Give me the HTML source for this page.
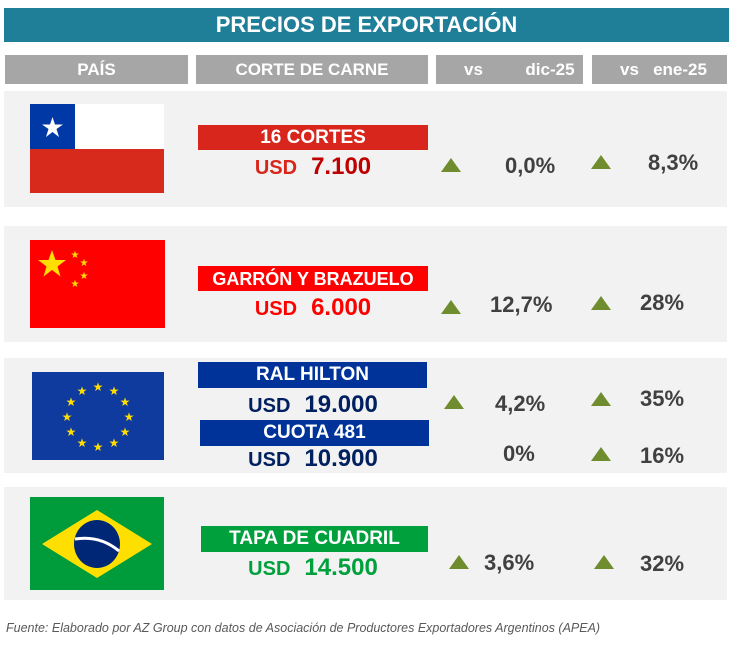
<!DOCTYPE html>
<html><head><meta charset="utf-8"><style>
body{margin:0;width:738px;height:651px;background:#fff;position:relative;overflow:hidden;font-family:"Liberation Sans",sans-serif;font-weight:bold}
div{position:absolute;box-sizing:border-box}
.c{text-align:center;white-space:nowrap}
.hd{background:#a6a6a6;color:#fff;top:55px;height:29px;font-size:17px;line-height:29px}
.pn{background:#f2f2f2;left:4px;width:723px}
.lb{color:#fff;font-size:19px;text-align:center;line-height:26px;white-space:nowrap}
.pc{color:#404040;font-size:22px;line-height:26px;white-space:nowrap}
.tr{width:0;height:0;border-left:10px solid transparent;border-right:10px solid transparent;border-bottom:14px solid #6f8c2e}
.usd{font-size:20px;line-height:24px;white-space:nowrap}
.usd span{font-size:24px;margin-left:14px}
</style></head><body>
<div class="c" style="left:4px;top:8px;width:725px;height:34px;background:#1f7f98;color:#fff;font-size:22px;line-height:34px">PRECIOS DE EXPORTACIÓN</div>
<div class="hd c" style="left:5px;width:183px">PAÍS</div>
<div class="hd c" style="left:196px;width:232px">CORTE DE CARNE</div>
<div class="hd" style="left:436px;width:147px;padding-left:28px">vs&nbsp;&nbsp;&nbsp;&nbsp;&nbsp;&nbsp;&nbsp;&nbsp;&nbsp;dic-25</div>
<div class="hd" style="left:592px;width:135px;padding-left:28px">vs&nbsp;&nbsp;&nbsp;ene-25</div>

<!-- Chile -->
<div class="pn" style="top:91px;height:116px"></div>
<div style="left:30px;top:104px;width:134px;height:89px;background:#d72a1d"></div>
<div style="left:30px;top:104px;width:134px;height:45px;background:#fff"></div>
<div style="left:30px;top:104px;width:45px;height:45px;background:#0039a6"></div>
<svg style="position:absolute;left:30px;top:104px" width="45" height="45"><polygon fill="#fff" points="22.5,13 25,20.5 33,20.5 26.5,25 29,33 22.5,28 16,33 18.5,25 12,20.5 20,20.5"/></svg>
<div class="lb" style="left:198px;top:125px;width:230px;height:25px;background:#d9261c">16 CORTES</div>
<div class="usd c" style="left:198px;top:155px;width:230px;color:#d9261c">USD<span style="color:#c00000">7.100</span></div>
<div class="tr" style="left:441px;top:158px"></div>
<div class="pc" style="left:505px;top:153px">0,0%</div>
<div class="tr" style="left:591px;top:155px"></div>
<div class="pc" style="left:648px;top:150px">8,3%</div>

<!-- China -->
<div class="pn" style="top:226px;height:116px"></div>
<div style="left:30px;top:240px;width:135px;height:88px;background:#ff0000"></div>
<svg style="position:absolute;left:30px;top:240px" width="135" height="88">
<g fill="#ffde00" font-size="10" text-anchor="middle" font-family="DejaVu Sans">
<polygon points="22,10 25.5,20 36,20 27.5,26.5 30.5,36.5 22,30 13.5,36.5 16.5,26.5 8,20 18.5,20"/>
<text x="45" y="18">★</text><text x="54" y="26">★</text><text x="54" y="39">★</text><text x="45" y="47">★</text>
</g></svg>
<div class="lb" style="left:198px;top:266px;width:230px;height:25px;background:#ff0000;font-size:18px">GARRÓN Y BRAZUELO</div>
<div class="usd c" style="left:198px;top:296px;width:230px;color:#ff0000">USD<span>6.000</span></div>
<div class="tr" style="left:441px;top:300px"></div>
<div class="pc" style="left:490px;top:292px">12,7%</div>
<div class="tr" style="left:591px;top:296px"></div>
<div class="pc" style="left:640px;top:290px">28%</div>

<!-- EU -->
<div class="pn" style="top:358px;height:115px"></div>
<div style="left:32px;top:372px;width:132px;height:88px;background:#0f3a9e"></div>
<svg style="position:absolute;left:32px;top:372px" width="132" height="88"><g fill="#ffdd00" font-size="12" text-anchor="middle" font-family="DejaVu Sans">
<text x="66" y="19">★</text><text x="82" y="23">★</text><text x="93" y="34">★</text><text x="97" y="49">★</text><text x="93" y="64">★</text><text x="82" y="75">★</text><text x="66" y="79">★</text><text x="50" y="75">★</text><text x="39" y="64">★</text><text x="35" y="49">★</text><text x="39" y="34">★</text><text x="50" y="23">★</text>
</g></svg>
<div class="lb" style="left:198px;top:362px;width:229px;height:26px;background:#003399">RAL HILTON</div>
<div class="usd c" style="left:198px;top:393px;width:230px;color:#002060">USD<span>19.000</span></div>
<div class="lb" style="left:200px;top:420px;width:229px;height:26px;background:#003399">CUOTA 481</div>
<div class="usd c" style="left:198px;top:447px;width:230px;color:#002060">USD<span>10.900</span></div>
<div class="tr" style="left:444px;top:395px"></div>
<div class="pc" style="left:495px;top:391px">4,2%</div>
<div class="tr" style="left:591px;top:392px"></div>
<div class="pc" style="left:640px;top:386px">35%</div>
<div class="pc" style="left:503px;top:441px">0%</div>
<div class="tr" style="left:591px;top:447px"></div>
<div class="pc" style="left:640px;top:443px">16%</div>

<!-- Brazil -->
<div class="pn" style="top:487px;height:113px"></div>
<div style="left:30px;top:497px;width:134px;height:93px;background:#009c3b"></div>
<svg style="position:absolute;left:30px;top:497px" width="134" height="93">
<polygon fill="#ffdf00" points="67,13 122,47 67,81 12,47"/>
<ellipse cx="67" cy="47" rx="23" ry="24" fill="#002776"/>
<path d="M45 42 Q70 38 89 54" stroke="#fff" stroke-width="3" fill="none"/>
</svg>
<div class="lb" style="left:201px;top:526px;width:227px;height:26px;background:#00a03c">TAPA DE CUADRIL</div>
<div class="usd c" style="left:198px;top:556px;width:230px;color:#00a03c">USD<span>14.500</span></div>
<div class="tr" style="left:449px;top:555px"></div>
<div class="pc" style="left:484px;top:550px">3,6%</div>
<div class="tr" style="left:594px;top:555px"></div>
<div class="pc" style="left:640px;top:551px">32%</div>

<div style="left:6px;top:621px;font-size:12.5px;font-weight:normal;font-style:italic;color:#595959;white-space:nowrap">Fuente: Elaborado por AZ Group con datos de Asociación de Productores Exportadores Argentinos (APEA)</div>
</body></html>
